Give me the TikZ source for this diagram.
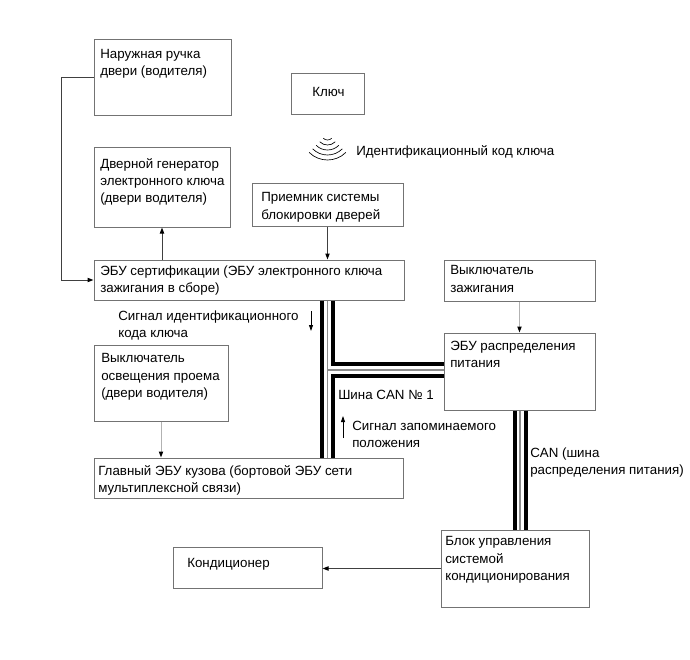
\documentclass[tikz,border=0pt]{standalone}
\usepackage{fontspec}
\setmainfont{Liberation Sans}
\usetikzlibrary{arrows.meta,fit}
\newcommand{\lblfont}{\fontsize{10}{12.8}\selectfont}
\tikzset{
  blk/.style={draw=black!55, line width=0.75pt, inner sep=0pt},
  txt/.style={anchor=north west, inner sep=0pt, align=left, font=\lblfont, execute at begin node=\strut},
  arr/.style={draw=black!75, line width=0.75pt, -{Triangle[length=4.5pt,width=3.2pt,color=black]}},
  garr/.style={arr, draw=black!30},
  sarr/.style={draw=black, line width=0.6pt, -{Triangle[length=4.5pt,width=3pt]}},
  thk/.style={draw=black, line width=3pt},
  thn/.style={draw=black!45, line width=0.9pt},
  wave/.style={draw=black, line width=0.5pt},
}
\begin{document}
\begin{tikzpicture}[x=0.75pt,y=-0.75pt]
  \useasboundingbox (0,0) rectangle (690,660);
  % blocks
  \node[blk, fit={(94,40)(231,116)}] (handle) {};
  \node[blk, fit={(291,74)(364,115)}] (key) {};
  \node[blk, fit={(94,148)(230,227)}] (gen) {};
  \node[blk, fit={(252,184)(403,226)}] (recv) {};
  \node[blk, fit={(94,260)(404,300)}] (ecu) {};
  \node[blk, fit={(444,260)(595,301)}] (ign) {};
  \node[blk, fit={(444,333)(595,410)}] (pdist) {};
  \node[blk, fit={(94,345)(228,421)}] (lamp) {};
  \node[blk, fit={(94,458)(403,498)}] (body) {};
  \node[blk, fit={(441,530)(589,607)}] (clim) {};
  \node[blk, fit={(173,547)(322,588)}] (ac) {};
  % texts
  \node[txt] (handle-t) at (100,49) {Наружная ручка\\двери (водителя)};
  \node[txt] (key-t) at (312,84) {Ключ};
  \node[txt] (idcode) at (356,143.5) {Идентификационный код ключа};
  \node[txt] (gen-t) at (100,158.5) {Дверной генератор\\электронного ключа\\(двери водителя)};
  \node[txt] (recv-t) at (261,192.5) {Приемник системы\\блокировки дверей};
  \node[txt] (ecu-t) at (100,265.5) {ЭБУ сертификации (ЭБУ электронного ключа\\зажигания в сборе)};
  \node[txt] (ign-t) at (450,265.5) {Выключатель\\зажигания};
  \node[txt] (sig1) at (118,310.5) {Сигнал идентификационного\\кода ключа};
  \node[txt] (pdist-t) at (450,340.5) {ЭБУ распределения\\питания};
  \node[txt] (lamp-t) at (101,353.5) {Выключатель\\освещения проема\\(двери водителя)};
  \node[txt] (can1) at (338,387.5) {Шина CAN № 1};
  \node[txt] (sig2) at (352,420.5) {Сигнал запоминаемого\\положения};
  \node[txt] (can2) at (530,447.5) {CAN (шина\\распределения питания)};
  \node[txt] (body-t) at (98,465.5) {Главный ЭБУ кузова (бортовой ЭБУ сети\\мультиплексной связи)};
  \node[txt] (ac-t) at (187,555.5) {Кондиционер};
  \node[txt] (clim-t) at (445,536.5) {Блок управления\\системой\\кондиционирования};
  % key waves
  \coordinate (wc) at (327.5,134);
  \foreach \r in {6,11,16,21,26}
    \draw[wave] (wc) ++(45:\r) arc[start angle=45, end angle=135, radius=\r];
  % connectors
  \draw[arr] (handle.west) -- ++(-32,0) |- (ecu.west);
  \draw[arr] (ecu.north -| gen.south) -- (gen.south);
  \draw[arr] (recv.south) -- (recv.south |- ecu.north);
  \draw[garr] (ign.south) -- (ign.south |- pdist.north);
  \draw[garr] (lamp.south) -- (lamp.south |- body.north);
  \draw[arr] (clim.west) -- (clim.west -| ac.east);
  \coordinate (s1a) at (311,311);
  \coordinate (s1b) at (311,331);
  \coordinate (s2a) at (343,438);
  \coordinate (s2b) at (343,416);
  \draw[sarr] (s1a) -- (s1b);
  \draw[sarr] (s2a) -- (s2b);
  % CAN No 1
  \coordinate (bl) at (321.5,0);
  \coordinate (bm) at (327.3,0);
  \coordinate (br) at (333,0);
  \coordinate (hu) at (0,364);
  \coordinate (hm) at (0,370);
  \coordinate (hd) at (0,376);
  \draw[thk] (bl |- ecu.south) -- (bl |- body.north);
  \draw[thk] (br |- ecu.south) -- (br |- hu) -- (hu -| pdist.west);
  \draw[thk] (hd -| pdist.west) -- (br |- hd) -- (br |- body.north);
  \draw[thn] (bm |- ecu.south) -- (bm |- body.north);
  \draw[thn] (bm |- hm) -- (hm -| pdist.west);
  % power distribution CAN
  \coordinate (cl) at (514.5,0);
  \coordinate (cm) at (520,0);
  \coordinate (cr) at (525.5,0);
  \draw[thk] (cl |- pdist.south) -- (cl |- clim.north);
  \draw[thn] (cm |- pdist.south) -- (cm |- clim.north);
  \draw[thk] (cr |- pdist.south) -- (cr |- clim.north);
\end{tikzpicture}
\end{document}
